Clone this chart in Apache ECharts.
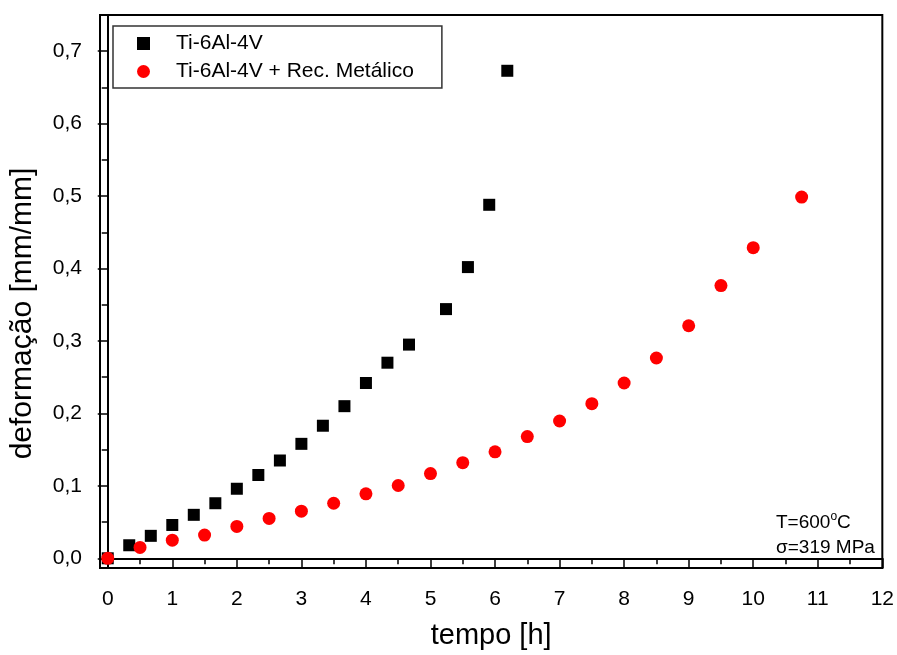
<!DOCTYPE html>
<html><head><meta charset="utf-8">
<script src="https://cdn.jsdelivr.net/npm/echarts@6/dist/echarts.min.js"></script>
<style>html,body{margin:0;padding:0;background:#fff}#c{width:897px;height:655px}</style>
</head><body><div id="c"></div>
<script>
const seriesNames = ['Ti-6Al-4V', 'Ti-6Al-4V + Rec. Metálico'];
const tiTime   = [0, 0.333, 0.667, 1.0, 1.333, 1.667, 2.0, 2.333, 2.667, 3.0, 3.333, 3.667, 4.0, 4.333, 4.667, 5.24, 5.58, 5.91, 6.19];
const tiStrain = [0, 0.018, 0.031, 0.046, 0.060, 0.076, 0.096, 0.115, 0.135, 0.158, 0.183, 0.210, 0.242, 0.270, 0.295, 0.344, 0.402, 0.488, 0.673];
const recTime   = [0, 0.5, 1, 1.5, 2, 2.5, 3, 3.5, 4, 4.5, 5, 5.5, 6, 6.5, 7, 7.5, 8, 8.5, 9, 9.5, 10, 10.75];
const recStrain = [0, 0.015, 0.025, 0.032, 0.044, 0.055, 0.065, 0.076, 0.089, 0.1005, 0.117, 0.132, 0.147, 0.168, 0.1895, 0.2135, 0.242, 0.2765, 0.321, 0.3765, 0.4288, 0.4986];
const xMajorTicks = [0, 1, 2, 3, 4, 5, 6, 7, 8, 9, 10, 11, 12];
const xMinorTicks = [0.5, 1.5, 2.5, 3.5, 4.5, 5.5, 6.5, 7.5, 8.5, 9.5, 10.5, 11.5];
const yMajorTicks = [0, 0.1, 0.2, 0.3, 0.4, 0.5, 0.6, 0.7];
const yMinorTicks = [0.05, 0.15, 0.25, 0.35, 0.45, 0.55, 0.65];
const xTitle = 'tempo [h]';
const yTitle = 'deformação [mm/mm]';
const noteLines = ['T=600{s|o}C', 'σ=319 MPa'];

const FONT = "'Liberation Sans', Arial, sans-serif";
const xMin = -0.12, xMax = 12, yMin = -0.0134, yMax = 0.75;
const pair = (xs, ys) => xs.map((x, i) => [x, ys[i]]);

const chart = echarts.init(document.getElementById('c'), null, {renderer: 'canvas'});
const baseX = {type: 'value', min: xMin, max: xMax, position: 'bottom', splitLine: {show: false}};
const baseY = {type: 'value', min: yMin, max: yMax, position: 'left', splitLine: {show: false}};
chart.setOption({
  animation: false,
  backgroundColor: '#fff',
  textStyle: {fontFamily: FONT},
  grid: {left: 99, right: 11, top: 15, bottom: 86, show: true, borderColor: '#000', borderWidth: 2, backgroundColor: 'transparent'},
  xAxis: [
    Object.assign({}, baseX, {
      axisLine: {show: true, lineStyle: {color: '#000', width: 2}},
      axisTick: {show: true, customValues: xMajorTicks, length: 10, lineStyle: {color: '#000', width: 1.5}},
      axisLabel: {show: true, customValues: xMajorTicks, margin: 21, fontSize: 21, color: '#000', fontFamily: FONT,
        formatter: v => String(Math.round(v))},
      name: xTitle, nameLocation: 'middle', nameGap: 53,
      nameTextStyle: {fontSize: 29, color: '#000', fontFamily: FONT}
    }),
    Object.assign({}, baseX, {
      axisLine: {show: false},
      axisTick: {show: true, customValues: xMinorTicks, length: 6, lineStyle: {color: '#000', width: 1.5}},
      axisLabel: {show: false}
    })
  ],
  yAxis: [
    Object.assign({}, baseY, {
      axisLine: {show: true, lineStyle: {color: '#000', width: 2}},
      axisTick: {show: true, customValues: yMajorTicks, length: 10, lineStyle: {color: '#000', width: 1.5}},
      axisLabel: {show: true, customValues: yMajorTicks, margin: 18, fontSize: 21, color: '#000', fontFamily: FONT,
        formatter: v => v.toFixed(1).replace('.', ',')},
      name: yTitle, nameLocation: 'middle', nameGap: 62, nameRotate: 90,
      nameTextStyle: {fontSize: 30, color: '#000', fontFamily: FONT, padding: [0, 44, 0, 0]}
    }),
    Object.assign({}, baseY, {
      axisLine: {show: false},
      axisTick: {show: true, customValues: yMinorTicks, length: 6, lineStyle: {color: '#000', width: 1.5}},
      axisLabel: {show: false}
    })
  ],
  legend: {
    orient: 'vertical', left: 113, top: 26,
    padding: [7, 28, 6, 24], itemGap: 7, itemWidth: 13, itemHeight: 13,
    borderColor: '#333', borderWidth: 1.5, backgroundColor: '#fff',
    textStyle: {fontSize: 21, color: '#000', fontFamily: FONT, padding: [0, 0, 0, 21]},
    data: [{name: seriesNames[0], icon: 'rect', itemStyle: {opacity: 1}}, {name: seriesNames[1], icon: 'circle', itemStyle: {opacity: 1}}]
  },
  series: [
    {name: seriesNames[0], type: 'scatter', xAxisIndex: 0, yAxisIndex: 0, symbol: 'rect', symbolSize: 12,
      itemStyle: {color: '#000', opacity: 1}, clip: false, data: pair(tiTime, tiStrain)},
    {name: seriesNames[1], type: 'scatter', xAxisIndex: 0, yAxisIndex: 0, symbol: 'circle', symbolSize: 13,
      itemStyle: {color: '#ff0000', opacity: 1}, clip: false, data: pair(recTime, recStrain)}
  ],
  graphic: [
    {type: 'text', left: 776, top: 511, style: {text: noteLines[0], fontSize: 19, fontFamily: FONT, fill: '#000',
      rich: {s: {fontSize: 12, fontFamily: FONT, fill: '#000', padding: [0, 0, 12, 0]}}}},
    {type: 'text', left: 776, top: 538, style: {text: noteLines[1], fontSize: 19, fontFamily: FONT, fill: '#000'}}
  ]
});
</script>
</body></html>
